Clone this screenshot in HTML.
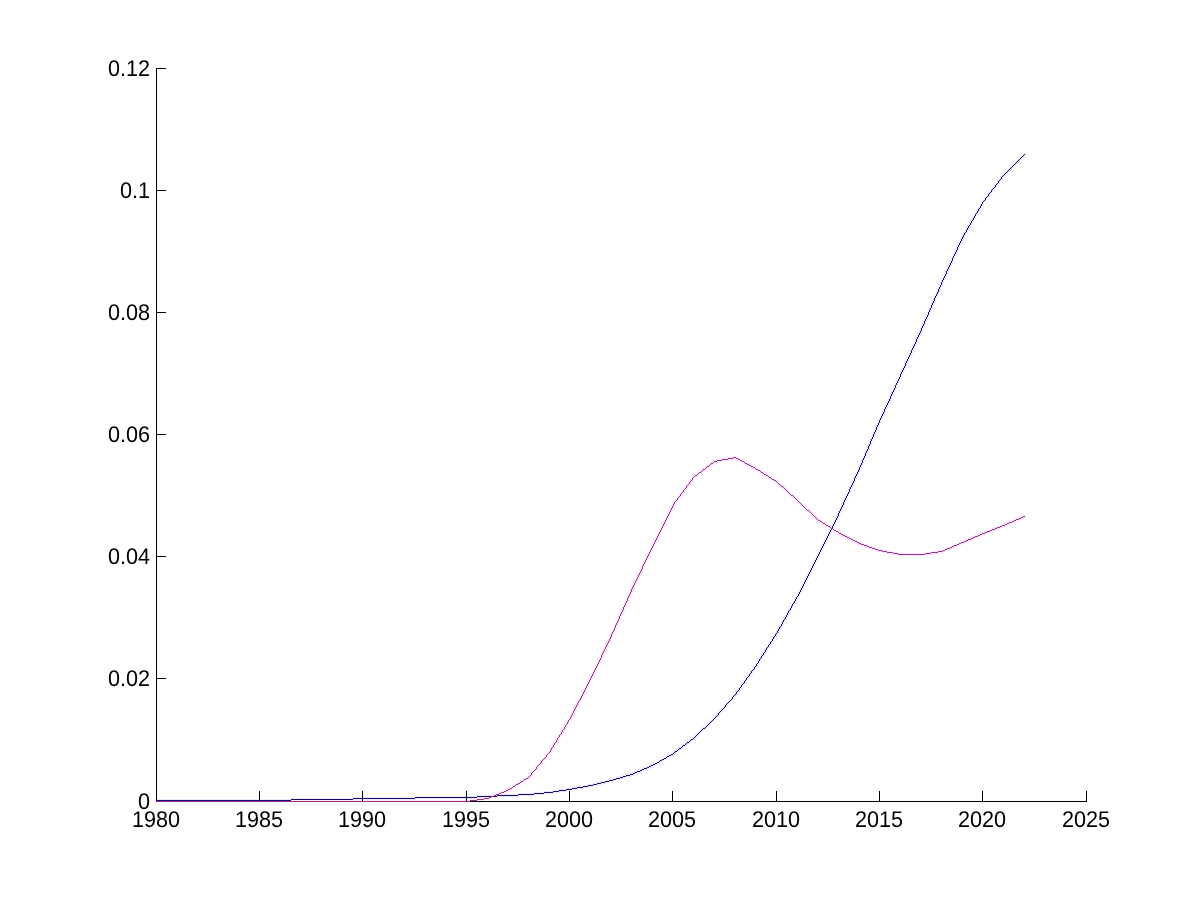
<!DOCTYPE html>
<html lang="en"><head><meta charset="utf-8"><title>Figure 1</title>
<style>
html,body{margin:0;padding:0;background:#fff;}
body{width:1200px;height:900px;overflow:hidden;}
svg{display:block;}
text{font-family:"Liberation Sans",Arial,Helvetica,sans-serif;font-size:21.6px;fill:#000;text-rendering:geometricPrecision;}
.lb{filter:grayscale(1);}
.ax{fill:#000;shape-rendering:crispEdges;}
.ln{stroke:none;shape-rendering:crispEdges;}
</style></head><body>
<svg width="1200" height="900" viewBox="0 0 1200 900">
<rect x="0" y="0" width="1200" height="900" fill="#ffffff"/>
<!-- soft chroma halo (JPEG-like colour bleed) -->
<path class="ln" fill="#ebe9fc" d="M290 798h63v1h-63zM415 798h63v1h-63zM891 396h2v1h-2zM680 746h2v1h-2zM683 746h3v1h-3zM622 775h4v1h-4zM630 775h4v1h-4zM903 370h2v1h-2zM476 795h18v1h-18zM518 795h17v1h-17zM773 635h2v1h-2zM926 314h2v1h-2zM915 344h2v1h-2zM352 797h63v1h-63zM477 797h12v1h-12zM491 797h7v1h-7zM788 609h2v1h-2zM937 288h2v1h-2zM157 799h134v1h-134zM353 799h63v1h-63zM949 262h2v1h-2zM961 236h2v1h-2zM1008 168h2v1h-2zM1011 168h2v1h-2zM756 662h2v1h-2zM720 709h2v1h-2zM723 709h2v1h-2zM989 191h2v1h-2zM837 512h2v1h-2zM414 796h63v1h-63zM497 796h22v1h-22zM1007 169h2v1h-2zM1010 169h2v1h-2zM849 486h2v1h-2zM533 792h11v1h-11zM553 792h7v1h-7zM863 460h2v1h-2zM825 537h2v1h-2zM771 642h2v1h-2zM576 786h7v1h-7zM588 786h6v1h-6zM648 765h3v1h-3zM653 765h3v1h-3zM934 295h2v1h-2zM784 616h2v1h-2zM948 269h2v1h-2zM984 197h2v1h-2zM987 197h2v1h-2zM960 243h2v1h-2zM615 777h5v1h-5zM623 777h4v1h-4zM1001 175h2v1h-2zM1004 175h2v1h-2zM849 492h2v1h-2zM715 715h2v1h-2zM718 715h2v1h-2zM751 669h2v1h-2zM754 669h2v1h-2zM696 733h2v1h-2zM699 733h2v1h-2zM643 767h4v1h-4zM649 767h3v1h-3zM986 198h2v1h-2zM767 648h2v1h-2zM860 467h2v1h-2zM824 544h2v1h-2zM1021 155h2v1h-2zM1024 155h2v1h-2zM871 441h2v1h-2zM908 359h2v1h-2zM780 623h2v1h-2zM920 333h2v1h-2zM982 200h2v1h-2zM985 200h2v1h-2zM818 551h2v1h-2zM831 525h2v1h-2zM792 602h2v1h-2zM604 780h5v1h-5zM613 780h4v1h-4zM843 499h2v1h-2zM565 788h7v1h-7zM577 788h7v1h-7zM891 391h2v1h-2zM760 655h2v1h-2zM763 655h2v1h-2zM903 365h2v1h-2zM663 757h3v1h-3zM667 757h3v1h-3zM994 184h2v1h-2zM997 184h2v1h-2zM1014 162h2v1h-2zM1017 162h2v1h-2zM634 771h3v1h-3zM640 771h3v1h-3zM877 422h2v1h-2zM905 366h2v1h-2zM592 783h5v1h-5zM601 783h5v1h-5zM802 583h2v1h-2zM1012 164h2v1h-2zM1015 164h2v1h-2zM543 791h10v1h-10zM559 791h8v1h-8zM815 557h2v1h-2zM876 424h2v1h-2zM291 800h63v1h-63zM888 398h2v1h-2zM704 726h2v1h-2zM707 726h2v1h-2zM902 372h2v1h-2zM914 346h2v1h-2zM923 320h2v1h-2zM948 264h2v1h-2zM757 664h2v1h-2zM925 321h2v1h-2zM1005 171h2v1h-2zM1008 171h2v1h-2zM801 590h2v1h-2zM837 518h2v1h-2zM735 691h2v1h-2zM738 691h2v1h-2zM750 670h2v1h-2zM753 670h2v1h-2zM933 297h2v1h-2zM920 327h2v1h-2zM947 271h2v1h-2zM934 301h2v1h-2zM499 794h19v1h-19zM534 794h11v1h-11zM959 245h2v1h-2zM1019 157h2v1h-2zM1022 157h2v1h-2zM868 443h2v1h-2zM745 677h2v1h-2zM748 677h2v1h-2zM552 790h7v1h-7zM566 790h7v1h-7zM686 741h3v1h-3zM690 741h2v1h-2zM636 770h4v1h-4zM642 770h3v1h-3zM711 719h2v1h-2zM714 719h2v1h-2zM747 678h2v1h-2zM854 475h2v1h-2zM868 449h2v1h-2zM978 207h2v1h-2zM759 657h2v1h-2zM817 558h2v1h-2zM830 532h2v1h-2zM656 761h3v1h-3zM660 761h3v1h-3zM775 632h2v1h-2zM916 342h2v1h-2zM816 560h2v1h-2zM925 316h2v1h-2zM722 707h2v1h-2zM725 707h2v1h-2zM582 785h6v1h-6zM593 785h5v1h-5zM910 349h2v1h-2zM625 774h5v1h-5zM633 774h3v1h-3zM922 323h2v1h-2zM826 535h2v1h-2zM976 214h2v1h-2zM841 509h2v1h-2zM901 374h2v1h-2zM853 483h2v1h-2zM862 457h2v1h-2zM935 298h2v1h-2zM694 735h2v1h-2zM697 735h2v1h-2zM619 776h4v1h-4zM626 776h5v1h-5zM797 593h2v1h-2zM887 405h2v1h-2zM773 639h2v1h-2zM810 567h2v1h-2zM783 618h2v1h-2zM672 752h2v1h-2zM675 752h3v1h-3zM919 330h2v1h-2zM825 542h2v1h-2zM946 274h2v1h-2zM734 693h2v1h-2zM930 304h2v1h-2zM710 720h2v1h-2zM713 720h2v1h-2zM793 600h2v1h-2zM608 779h5v1h-5zM616 779h5v1h-5zM907 356h2v1h-2zM779 625h2v1h-2zM842 501h2v1h-2zM940 281h2v1h-2zM927 311h2v1h-2zM952 255h2v1h-2zM743 680h2v1h-2zM746 680h2v1h-2zM558 789h8v1h-8zM572 789h6v1h-6zM682 744h3v1h-3zM686 744h2v1h-2zM979 209h2v1h-2zM792 606h2v1h-2zM889 401h2v1h-2zM829 534h2v1h-2zM875 426h2v1h-2zM650 764h3v1h-3zM655 764h3v1h-3zM769 641h2v1h-2zM772 641h2v1h-2zM738 687h2v1h-2zM741 687h2v1h-2zM678 747h3v1h-3zM682 747h2v1h-2zM975 216h2v1h-2zM673 751h2v1h-2zM677 751h2v1h-2zM753 666h2v1h-2zM756 666h2v1h-2zM840 511h2v1h-2zM852 485h2v1h-2zM895 382h2v1h-2zM836 515h2v1h-2zM861 459h2v1h-2zM923 326h2v1h-2zM932 300h2v1h-2zM886 407h2v1h-2zM670 753h3v1h-3zM674 753h2v1h-2zM809 569h2v1h-2zM714 716h2v1h-2zM717 716h2v1h-2zM1002 174h2v1h-2zM1005 174h2v1h-2zM918 332h2v1h-2zM971 223h2v1h-2zM765 647h2v1h-2zM768 647h2v1h-2zM858 466h2v1h-2zM906 363h2v1h-2zM869 440h2v1h-2zM690 738h3v1h-3zM694 738h2v1h-2zM726 702h2v1h-2zM729 702h2v1h-2zM776 634h2v1h-2zM940 287h2v1h-2zM761 654h2v1h-2zM952 261h2v1h-2zM995 183h2v1h-2zM998 183h2v1h-2zM517 793h17v1h-17zM544 793h10v1h-10zM652 763h3v1h-3zM657 763h3v1h-3zM721 708h2v1h-2zM724 708h2v1h-2zM992 190h2v1h-2zM828 536h2v1h-2zM1006 170h2v1h-2zM1009 170h2v1h-2zM946 268h2v1h-2zM697 732h2v1h-2zM700 732h2v1h-2zM646 766h3v1h-3zM651 766h3v1h-3zM835 517h2v1h-2zM894 384h2v1h-2zM906 358h2v1h-2zM1002 177h2v1h-2zM732 695h2v1h-2zM735 695h2v1h-2zM795 601h2v1h-2zM766 650h2v1h-2zM808 576h2v1h-2zM665 756h2v1h-2zM669 756h3v1h-3zM834 524h2v1h-2zM917 339h2v1h-2zM951 257h2v1h-2zM893 392h2v1h-2zM791 608h2v1h-2zM1013 163h2v1h-2zM1016 163h2v1h-2zM993 186h2v1h-2zM865 450h2v1h-2zM939 289h2v1h-2zM951 263h2v1h-2zM755 663h2v1h-2zM758 663h2v1h-2zM787 615h2v1h-2zM988 192h2v1h-2zM991 192h2v1h-2zM701 728h2v1h-2zM705 728h2v1h-2zM987 193h2v1h-2zM990 193h2v1h-2zM945 270h2v1h-2zM957 244h2v1h-2zM695 734h2v1h-2zM698 734h2v1h-2zM752 671h2v1h-2zM1020 156h2v1h-2zM1023 156h2v1h-2zM639 769h3v1h-3zM644 769h4v1h-4zM845 495h2v1h-2zM857 469h2v1h-2zM998 179h2v1h-2zM1001 179h2v1h-2zM981 206h2v1h-2zM596 782h5v1h-5zM605 782h5v1h-5zM807 578h2v1h-2zM632 772h3v1h-3zM637 772h4v1h-4zM844 502h2v1h-2zM801 585h2v1h-2zM659 759h3v1h-3zM664 759h3v1h-3zM856 476h2v1h-2zM928 315h2v1h-2zM723 706h2v1h-2zM974 213h2v1h-2zM977 213h2v1h-2zM702 727h3v1h-3zM706 727h2v1h-2zM839 508h2v1h-2zM864 452h2v1h-2zM851 482h2v1h-2zM681 745h2v1h-2zM685 745h2v1h-2zM814 559h2v1h-2zM887 400h2v1h-2zM739 686h2v1h-2zM961 241h2v1h-2zM771 638h2v1h-2zM973 215h2v1h-2zM786 617h2v1h-2zM1004 172h2v1h-2zM1007 172h2v1h-2zM823 541h2v1h-2zM944 273h2v1h-2zM986 195h2v1h-2zM958 247h2v1h-2zM641 768h3v1h-3zM647 768h3v1h-3zM813 566h2v1h-2zM872 433h2v1h-2zM898 381h2v1h-2zM910 355h2v1h-2zM749 672h2v1h-2zM969 222h2v1h-2zM782 624h2v1h-2zM748 673h2v1h-2zM751 673h2v1h-2zM844 497h2v1h-2zM856 471h2v1h-2zM1017 159h2v1h-2zM1020 159h2v1h-2zM965 229h2v1h-2zM943 280h2v1h-2zM778 631h2v1h-2zM977 208h2v1h-2zM980 208h2v1h-2zM955 254h2v1h-2zM790 605h2v1h-2zM853 477h2v1h-2zM878 425h2v1h-2zM774 633h2v1h-2zM777 633h2v1h-2zM855 478h2v1h-2zM802 588h2v1h-2zM754 665h2v1h-2zM838 510h2v1h-2zM850 484h2v1h-2zM864 458h2v1h-2zM740 688h2v1h-2zM699 730h2v1h-2zM702 730h2v1h-2zM898 376h2v1h-2zM770 640h2v1h-2zM587 784h6v1h-6zM597 784h5v1h-5zM612 778h4v1h-4zM620 778h4v1h-4zM822 543h2v1h-2zM885 409h2v1h-2zM780 627h2v1h-2zM872 439h2v1h-2zM897 383h2v1h-2zM909 357h2v1h-2zM571 787h6v1h-6zM583 787h6v1h-6zM968 224h2v1h-2zM1000 176h2v1h-2zM1003 176h2v1h-2zM600 781h5v1h-5zM609 781h5v1h-5zM1015 161h2v1h-2zM1018 161h2v1h-2zM706 724h2v1h-2zM709 724h2v1h-2zM964 231h2v1h-2zM990 189h2v1h-2zM993 189h2v1h-2zM960 238h2v1h-2zM799 594h2v1h-2zM972 217h2v1h-2zM718 711h2v1h-2zM721 711h2v1h-2zM768 643h2v1h-2zM861 465h2v1h-2zM713 717h2v1h-2zM716 717h2v1h-2zM764 649h2v1h-2zM808 571h2v1h-2zM821 545h2v1h-2zM917 334h2v1h-2zM942 282h2v1h-2zM954 256h2v1h-2zM999 178h2v1h-2zM928 309h2v1h-2zM793 604h2v1h-2zM882 416h2v1h-2zM762 656h2v1h-2zM996 185h2v1h-2zM890 393h2v1h-2zM979 205h2v1h-2zM902 367h2v1h-2zM914 341h2v1h-2zM772 636h2v1h-2zM775 636h2v1h-2zM685 742h2v1h-2zM689 742h2v1h-2zM787 610h2v1h-2zM790 610h2v1h-2zM965 233h2v1h-2zM789 611h2v1h-2zM839 513h2v1h-2zM851 487h2v1h-2zM827 538h2v1h-2zM936 296h2v1h-2zM959 240h2v1h-2zM983 199h2v1h-2zM848 494h2v1h-2zM870 438h2v1h-2zM884 412h2v1h-2zM693 736h2v1h-2zM696 736h2v1h-2zM981 201h2v1h-2zM984 201h2v1h-2zM836 520h2v1h-2zM791 603h2v1h-2zM794 603h2v1h-2zM820 552h2v1h-2zM878 419h2v1h-2zM684 743h2v1h-2zM687 743h3v1h-3zM709 721h2v1h-2zM712 721h2v1h-2zM760 659h2v1h-2zM890 399h2v1h-2zM991 188h2v1h-2zM994 188h2v1h-2zM1010 166h2v1h-2zM1013 166h2v1h-2zM936 291h2v1h-2zM913 348h2v1h-2zM654 762h3v1h-3zM659 762h2v1h-2zM947 266h2v1h-2zM742 685h2v1h-2zM989 194h2v1h-2zM798 591h2v1h-2zM811 565h2v1h-2zM884 406h2v1h-2zM782 619h2v1h-2zM785 619h2v1h-2zM956 246h2v1h-2zM716 714h2v1h-2zM847 496h2v1h-2zM972 221h2v1h-2zM859 470h2v1h-2zM870 444h2v1h-2zM778 626h2v1h-2zM781 626h2v1h-2zM941 279h2v1h-2zM953 253h2v1h-2zM727 701h2v1h-2zM730 701h2v1h-2zM744 679h2v1h-2zM816 555h2v1h-2zM758 658h2v1h-2zM761 658h2v1h-2zM806 580h2v1h-2zM867 451h2v1h-2zM745 681h2v1h-2zM889 395h2v1h-2zM707 723h2v1h-2zM710 723h2v1h-2zM901 369h2v1h-2zM841 504h2v1h-2zM913 343h2v1h-2zM813 561h2v1h-2zM927 317h2v1h-2zM700 729h2v1h-2zM703 729h3v1h-3zM800 587h2v1h-2zM875 432h2v1h-2zM912 350h2v1h-2zM812 568h2v1h-2zM924 324h2v1h-2zM883 408h2v1h-2zM943 275h2v1h-2zM733 694h2v1h-2zM736 694h2v1h-2zM766 646h2v1h-2zM955 249h2v1h-2zM666 755h3v1h-3zM671 755h3v1h-3zM806 575h2v1h-2zM750 674h2v1h-2zM932 305h2v1h-2zM733 697h2v1h-2zM996 182h2v1h-2zM688 740h2v1h-2zM691 740h3v1h-3zM789 607h2v1h-2zM724 704h2v1h-2zM727 704h2v1h-2zM866 453h2v1h-2zM877 427h2v1h-2zM852 480h2v1h-2zM719 710h2v1h-2zM722 710h2v1h-2zM814 564h2v1h-2zM911 353h2v1h-2zM874 434h2v1h-2zM811 570h2v1h-2zM797 597h2v1h-2zM834 519h2v1h-2zM846 493h2v1h-2zM882 411h2v1h-2zM931 308h2v1h-2zM805 577h2v1h-2zM689 739h2v1h-2zM693 739h2v1h-2zM967 230h2v1h-2zM661 758h3v1h-3zM666 758h2v1h-2zM725 703h2v1h-2zM728 703h2v1h-2zM963 232h2v1h-2zM966 232h2v1h-2zM881 418h2v1h-2zM1011 165h2v1h-2zM1014 165h2v1h-2zM677 748h2v1h-2zM681 748h2v1h-2zM873 437h2v1h-2zM769 645h2v1h-2zM896 385h2v1h-2zM763 651h2v1h-2zM820 547h2v1h-2zM1018 158h2v1h-2zM1021 158h2v1h-2zM833 521h2v1h-2zM930 310h2v1h-2zM939 284h2v1h-2zM953 258h2v1h-2zM819 554h2v1h-2zM804 584h2v1h-2zM629 773h4v1h-4zM635 773h3v1h-3zM950 265h2v1h-2zM740 684h2v1h-2zM743 684h2v1h-2zM962 239h2v1h-2zM938 292h2v1h-2zM970 220h2v1h-2zM973 220h2v1h-2zM997 180h2v1h-2zM1000 180h2v1h-2zM668 754h3v1h-3zM673 754h2v1h-2zM804 579h2v1h-2zM892 394h2v1h-2zM708 722h2v1h-2zM711 722h2v1h-2zM904 368h2v1h-2zM728 700h2v1h-2zM731 700h2v1h-2zM803 586h2v1h-2zM1009 167h2v1h-2zM1012 167h2v1h-2zM759 661h2v1h-2zM958 242h2v1h-2zM886 402h2v1h-2zM949 267h2v1h-2zM755 667h2v1h-2zM985 196h2v1h-2zM988 196h2v1h-2zM897 378h2v1h-2zM909 352h2v1h-2zM731 696h2v1h-2zM734 696h2v1h-2zM846 498h2v1h-2zM858 472h2v1h-2zM880 415h2v1h-2zM1016 160h2v1h-2zM1019 160h2v1h-2zM929 307h2v1h-2zM828 531h2v1h-2zM843 505h2v1h-2zM799 589h2v1h-2zM737 689h2v1h-2zM676 749h2v1h-2zM679 749h3v1h-3zM812 563h2v1h-2zM736 690h2v1h-2zM739 690h2v1h-2zM885 404h2v1h-2zM795 596h2v1h-2zM798 596h2v1h-2zM871 436h2v1h-2zM967 225h2v1h-2zM970 225h2v1h-2zM969 226h2v1h-2zM712 718h2v1h-2zM715 718h2v1h-2zM746 676h2v1h-2zM749 676h2v1h-2zM879 417h2v1h-2zM854 481h2v1h-2zM863 455h2v1h-2zM774 637h2v1h-2zM974 218h2v1h-2zM674 750h3v1h-3zM678 750h2v1h-2zM826 540h2v1h-2zM737 692h2v1h-2zM767 644h2v1h-2zM770 644h2v1h-2zM823 546h2v1h-2zM807 573h2v1h-2zM916 336h2v1h-2zM907 361h2v1h-2zM817 553h2v1h-2zM658 760h2v1h-2zM662 760h3v1h-3zM962 234h2v1h-2zM786 612h2v1h-2zM935 293h2v1h-2zM1003 173h2v1h-2zM1006 173h2v1h-2zM698 731h2v1h-2zM701 731h2v1h-2zM781 621h2v1h-2zM692 737h2v1h-2zM695 737h2v1h-2zM764 653h2v1h-2zM869 446h2v1h-2zM832 523h2v1h-2zM983 202h2v1h-2zM880 420h2v1h-2zM777 628h2v1h-2zM915 338h2v1h-2zM929 312h2v1h-2zM757 660h2v1h-2zM831 530h2v1h-2zM926 319h2v1h-2zM785 614h2v1h-2zM921 325h2v1h-2zM1023 153h3v1h-3zM796 595h2v1h-2zM818 556h2v1h-2zM742 682h2v1h-2zM705 725h2v1h-2zM708 725h2v1h-2zM842 507h2v1h-2zM815 562h2v1h-2zM888 403h2v1h-2zM900 377h2v1h-2zM848 488h2v1h-2zM860 462h2v1h-2zM747 675h2v1h-2zM945 276h2v1h-2zM957 250h2v1h-2zM730 698h2v1h-2zM919 335h2v1h-2zM776 630h2v1h-2zM726 705h2v1h-2zM908 354h2v1h-2zM922 328h2v1h-2zM899 379h2v1h-2zM810 572h2v1h-2zM859 464h2v1h-2zM893 387h2v1h-2zM762 652h2v1h-2zM765 652h2v1h-2zM867 445h2v1h-2zM924 318h2v1h-2zM788 613h2v1h-2zM838 516h2v1h-2zM809 574h2v1h-2zM784 620h2v1h-2zM835 522h2v1h-2zM918 337h2v1h-2zM819 549h2v1h-2zM941 285h2v1h-2zM999 181h2v1h-2zM829 529h2v1h-2zM912 345h2v1h-2zM752 668h2v1h-2zM931 302h2v1h-2zM982 204h2v1h-2zM866 448h2v1h-2zM840 506h2v1h-2zM978 211h2v1h-2zM874 429h2v1h-2zM937 294h2v1h-2zM911 347h2v1h-2zM873 431h2v1h-2zM783 622h2v1h-2zM905 360h2v1h-2zM779 629h2v1h-2zM944 278h2v1h-2zM956 252h2v1h-2zM824 539h2v1h-2zM966 227h2v1h-2zM904 362h2v1h-2zM992 187h2v1h-2zM995 187h2v1h-2zM865 456h2v1h-2zM850 489h2v1h-2zM862 463h2v1h-2zM822 548h2v1h-2zM883 414h2v1h-2zM895 388h2v1h-2zM980 203h2v1h-2zM803 581h2v1h-2zM855 473h2v1h-2zM976 210h2v1h-2zM821 550h2v1h-2zM741 683h2v1h-2zM744 683h2v1h-2zM975 212h2v1h-2zM1022 154h2v1h-2zM876 430h2v1h-2zM717 712h2v1h-2zM720 712h2v1h-2zM971 219h2v1h-2zM942 277h2v1h-2zM954 251h2v1h-2zM729 699h2v1h-2zM732 699h2v1h-2zM827 533h2v1h-2zM800 592h2v1h-2zM933 303h2v1h-2zM794 598h2v1h-2zM796 599h2v1h-2zM968 228h2v1h-2zM964 235h2v1h-2zM896 380h2v1h-2zM847 491h2v1h-2zM894 390h2v1h-2zM805 582h2v1h-2zM900 371h2v1h-2zM963 237h2v1h-2zM879 423h2v1h-2zM899 373h2v1h-2zM833 526h2v1h-2zM845 500h2v1h-2zM857 474h2v1h-2zM881 413h2v1h-2zM938 286h2v1h-2zM950 260h2v1h-2zM719 713h2v1h-2zM921 331h2v1h-2zM892 389h2v1h-2zM496 795h1v1h-1zM717 713h1v1h-1zM719 714h1v1h-1zM724 705h1v1h-1zM726 706h1v1h-1zM731 697h1v1h-1zM733 698h1v1h-1zM735 692h1v1h-1zM737 693h1v1h-1zM738 688h1v1h-1zM740 685h1v1h-1zM740 689h1v1h-1zM742 686h1v1h-1zM743 681h1v1h-1zM745 678h1v1h-1zM745 682h1v1h-1zM747 679h1v1h-1zM748 674h1v1h-1zM750 671h1v1h-1zM750 675h1v1h-1zM752 672h1v1h-1zM753 667h1v1h-1zM755 664h1v1h-1zM755 668h1v1h-1zM757 661h1v1h-1zM757 665h1v1h-1zM758 659h1v1h-1zM759 662h1v1h-1zM760 656h1v1h-1zM760 660h1v1h-1zM762 653h1v1h-1zM762 657h1v1h-1zM764 650h1v1h-1zM764 654h1v1h-1zM765 648h1v1h-1zM766 651h1v1h-1zM767 645h1v1h-1zM767 649h1v1h-1zM769 642h1v1h-1zM769 646h1v1h-1zM771 639h1v1h-1zM771 643h1v1h-1zM772 637h1v1h-1zM773 640h1v1h-1zM774 634h1v1h-1zM774 638h1v1h-1zM776 631h1v1h-1zM776 635h1v1h-1zM777 629h1v1h-1zM778 627h1v1h-1zM778 632h1v1h-1zM779 630h1v1h-1zM780 624h1v1h-1zM780 628h1v1h-1zM781 622h1v1h-1zM782 620h1v1h-1zM782 625h1v1h-1zM783 623h1v1h-1zM784 617h1v1h-1zM784 621h1v1h-1zM785 615h1v1h-1zM786 613h1v1h-1zM786 618h1v1h-1zM787 611h1v1h-1zM787 616h1v1h-1zM788 614h1v1h-1zM789 608h1v1h-1zM789 612h1v1h-1zM790 606h1v1h-1zM791 604h1v1h-1zM791 609h1v1h-1zM792 607h1v1h-1zM793 601h1v1h-1zM793 605h1v1h-1zM794 599h1v1h-1zM795 597h1v1h-1zM795 602h1v1h-1zM796 600h1v1h-1zM797 594h1v1h-1zM797 598h1v1h-1zM798 592h1v1h-1zM799 590h1v1h-1zM799 595h1v1h-1zM800 588h1v1h-1zM800 593h1v1h-1zM801 586h1v1h-1zM801 591h1v1h-1zM802 584h1v1h-1zM802 589h1v1h-1zM803 582h1v1h-1zM803 587h1v1h-1zM804 580h1v1h-1zM804 585h1v1h-1zM805 578h1v1h-1zM805 583h1v1h-1zM806 576h1v1h-1zM806 581h1v1h-1zM807 574h1v1h-1zM807 579h1v1h-1zM808 572h1v1h-1zM808 577h1v1h-1zM809 570h1v1h-1zM809 575h1v1h-1zM810 568h1v1h-1zM810 573h1v1h-1zM811 566h1v1h-1zM811 571h1v1h-1zM812 564h1v1h-1zM812 569h1v1h-1zM813 562h1v1h-1zM813 567h1v1h-1zM814 560h1v1h-1zM814 565h1v1h-1zM815 558h1v1h-1zM815 563h1v1h-1zM816 556h1v1h-1zM816 561h1v1h-1zM817 554h1v1h-1zM817 559h1v1h-1zM818 552h1v1h-1zM818 557h1v1h-1zM819 550h1v1h-1zM819 555h1v1h-1zM820 548h1v1h-1zM820 553h1v1h-1zM821 546h1v1h-1zM821 551h1v1h-1zM822 544h1v1h-1zM822 549h1v1h-1zM823 542h1v1h-1zM823 547h1v1h-1zM824 540h1v1h-1zM824 545h1v1h-1zM825 538h1v1h-1zM825 543h1v1h-1zM826 536h1v1h-1zM826 541h1v1h-1zM827 534h1v1h-1zM827 539h1v1h-1zM828 532h1v1h-1zM828 537h1v1h-1zM829 530h1v1h-1zM829 535h1v1h-1zM830 528h1v1h-1zM830 533h1v1h-1zM831 526h1v2h-1zM831 531h1v1h-1zM832 524h1v1h-1zM832 529h1v1h-1zM833 522h1v1h-1zM833 527h1v2h-1zM834 520h1v1h-1zM834 525h1v1h-1zM835 518h1v1h-1zM835 523h1v1h-1zM836 516h1v1h-1zM836 521h1v1h-1zM837 513h1v2h-1zM837 519h1v1h-1zM838 511h1v1h-1zM838 517h1v1h-1zM839 509h1v1h-1zM839 514h1v2h-1zM840 507h1v1h-1zM840 512h1v1h-1zM841 505h1v1h-1zM841 510h1v1h-1zM842 502h1v2h-1zM842 508h1v1h-1zM843 500h1v1h-1zM843 506h1v1h-1zM844 498h1v1h-1zM844 503h1v2h-1zM845 496h1v1h-1zM845 501h1v1h-1zM846 494h1v1h-1zM846 499h1v1h-1zM847 492h1v1h-1zM847 497h1v1h-1zM848 489h1v2h-1zM848 495h1v1h-1zM849 487h1v1h-1zM849 493h1v1h-1zM850 485h1v1h-1zM850 490h1v2h-1zM851 483h1v1h-1zM851 488h1v1h-1zM852 481h1v1h-1zM852 486h1v1h-1zM853 478h1v2h-1zM853 484h1v1h-1zM854 476h1v1h-1zM854 482h1v1h-1zM855 474h1v1h-1zM855 479h1v2h-1zM856 472h1v1h-1zM856 477h1v1h-1zM857 470h1v1h-1zM857 475h1v1h-1zM858 467h1v2h-1zM858 473h1v1h-1zM859 465h1v1h-1zM859 471h1v1h-1zM860 463h1v1h-1zM860 468h1v2h-1zM861 460h1v2h-1zM861 466h1v1h-1zM862 458h1v1h-1zM862 464h1v1h-1zM863 456h1v1h-1zM863 461h1v2h-1zM864 453h1v2h-1zM864 459h1v1h-1zM865 451h1v1h-1zM865 457h1v1h-1zM866 449h1v1h-1zM866 454h1v2h-1zM867 446h1v2h-1zM867 452h1v1h-1zM868 444h1v1h-1zM868 450h1v1h-1zM869 441h1v2h-1zM869 447h1v2h-1zM870 439h1v1h-1zM870 445h1v1h-1zM871 437h1v1h-1zM871 442h1v2h-1zM872 434h1v2h-1zM872 440h1v1h-1zM873 432h1v1h-1zM873 438h1v1h-1zM874 430h1v1h-1zM874 435h1v2h-1zM875 427h1v2h-1zM875 433h1v1h-1zM876 425h1v1h-1zM876 431h1v1h-1zM877 423h1v1h-1zM877 428h1v2h-1zM878 420h1v2h-1zM878 426h1v1h-1zM879 418h1v1h-1zM879 424h1v1h-1zM880 416h1v1h-1zM880 421h1v2h-1zM881 414h1v1h-1zM881 419h1v1h-1zM882 412h1v1h-1zM882 417h1v1h-1zM883 409h1v2h-1zM883 415h1v1h-1zM884 407h1v1h-1zM884 413h1v1h-1zM885 405h1v1h-1zM885 410h1v2h-1zM886 403h1v1h-1zM886 408h1v1h-1zM887 401h1v1h-1zM887 406h1v1h-1zM888 399h1v1h-1zM888 404h1v1h-1zM889 396h1v2h-1zM889 402h1v1h-1zM890 394h1v1h-1zM890 400h1v1h-1zM891 392h1v1h-1zM891 397h1v2h-1zM892 390h1v1h-1zM892 395h1v1h-1zM893 388h1v1h-1zM893 393h1v1h-1zM894 385h1v2h-1zM894 391h1v1h-1zM895 383h1v1h-1zM895 389h1v1h-1zM896 381h1v1h-1zM896 386h1v2h-1zM897 379h1v1h-1zM897 384h1v1h-1zM898 377h1v1h-1zM898 382h1v1h-1zM899 374h1v2h-1zM899 380h1v1h-1zM900 372h1v1h-1zM900 378h1v1h-1zM901 370h1v1h-1zM901 375h1v2h-1zM902 368h1v1h-1zM902 373h1v1h-1zM903 366h1v1h-1zM903 371h1v1h-1zM904 363h1v2h-1zM904 369h1v1h-1zM905 361h1v1h-1zM905 367h1v1h-1zM906 359h1v1h-1zM906 364h1v2h-1zM907 357h1v1h-1zM907 362h1v1h-1zM908 355h1v1h-1zM908 360h1v1h-1zM909 353h1v1h-1zM909 358h1v1h-1zM910 350h1v2h-1zM910 356h1v1h-1zM911 348h1v1h-1zM911 354h1v1h-1zM912 346h1v1h-1zM912 351h1v2h-1zM913 344h1v1h-1zM913 349h1v1h-1zM914 342h1v1h-1zM914 347h1v1h-1zM915 339h1v2h-1zM915 345h1v1h-1zM916 337h1v1h-1zM916 343h1v1h-1zM917 335h1v1h-1zM917 340h1v2h-1zM918 333h1v1h-1zM918 338h1v1h-1zM919 331h1v1h-1zM919 336h1v1h-1zM920 328h1v2h-1zM920 334h1v1h-1zM921 326h1v1h-1zM921 332h1v1h-1zM922 324h1v1h-1zM922 329h1v2h-1zM923 321h1v2h-1zM923 327h1v1h-1zM924 319h1v1h-1zM924 325h1v1h-1zM925 317h1v1h-1zM925 322h1v2h-1zM926 315h1v1h-1zM926 320h1v1h-1zM927 312h1v2h-1zM927 318h1v1h-1zM928 310h1v1h-1zM928 316h1v1h-1zM929 308h1v1h-1zM929 313h1v2h-1zM930 305h1v2h-1zM930 311h1v1h-1zM931 303h1v1h-1zM931 309h1v1h-1zM932 301h1v1h-1zM932 306h1v2h-1zM933 298h1v2h-1zM933 304h1v1h-1zM934 296h1v1h-1zM934 302h1v1h-1zM935 294h1v1h-1zM935 299h1v2h-1zM936 292h1v1h-1zM936 297h1v1h-1zM937 289h1v2h-1zM937 295h1v1h-1zM938 287h1v1h-1zM938 293h1v1h-1zM939 285h1v1h-1zM939 290h1v2h-1zM940 282h1v2h-1zM940 288h1v1h-1zM941 280h1v1h-1zM941 286h1v1h-1zM942 278h1v1h-1zM942 283h1v2h-1zM943 276h1v1h-1zM943 281h1v1h-1zM944 274h1v1h-1zM944 279h1v1h-1zM945 271h1v2h-1zM945 277h1v1h-1zM946 269h1v1h-1zM946 275h1v1h-1zM947 267h1v1h-1zM947 272h1v2h-1zM948 265h1v1h-1zM948 270h1v1h-1zM949 263h1v1h-1zM949 268h1v1h-1zM950 261h1v1h-1zM950 266h1v1h-1zM951 258h1v2h-1zM951 264h1v1h-1zM952 256h1v1h-1zM952 262h1v1h-1zM953 254h1v1h-1zM953 259h1v2h-1zM954 252h1v1h-1zM954 257h1v1h-1zM955 250h1v1h-1zM955 255h1v1h-1zM956 247h1v2h-1zM956 253h1v1h-1zM957 245h1v1h-1zM957 251h1v1h-1zM958 243h1v1h-1zM958 248h1v2h-1zM959 241h1v1h-1zM959 246h1v1h-1zM960 239h1v1h-1zM960 244h1v1h-1zM961 237h1v1h-1zM961 242h1v1h-1zM962 235h1v1h-1zM962 240h1v1h-1zM963 233h1v1h-1zM963 238h1v1h-1zM964 236h1v1h-1zM965 230h1v1h-1zM965 234h1v1h-1zM966 228h1v1h-1zM967 226h1v1h-1zM967 231h1v1h-1zM968 229h1v1h-1zM969 223h1v1h-1zM969 227h1v1h-1zM970 221h1v1h-1zM971 224h1v1h-1zM972 218h1v1h-1zM972 222h1v1h-1zM973 216h1v1h-1zM974 214h1v1h-1zM974 219h1v1h-1zM975 217h1v1h-1zM976 211h1v1h-1zM976 215h1v1h-1zM977 209h1v1h-1zM978 212h1v1h-1zM979 206h1v1h-1zM979 210h1v1h-1zM980 204h1v1h-1zM981 202h1v1h-1zM981 207h1v1h-1zM982 205h1v1h-1zM983 203h1v1h-1zM984 198h1v1h-1zM986 199h1v1h-1zM987 194h1v1h-1zM989 195h1v1h-1zM990 190h1v1h-1zM992 191h1v1h-1zM994 185h1v1h-1zM996 186h1v1h-1zM997 181h1v1h-1zM999 182h1v1h-1zM1000 177h1v1h-1zM1002 178h1v1h-1zM1025 154h1v1h-1z"/>
<path class="ln" fill="#fae6fb" d="M708 464h2v1h-2zM711 464h3v1h-3zM744 464h3v1h-3zM749 464h3v1h-3zM583 694h2v1h-2zM656 540h2v1h-2zM850 540h3v1h-3zM855 540h3v1h-3zM963 540h3v1h-3zM968 540h4v1h-4zM673 506h2v1h-2zM801 506h2v1h-2zM804 506h2v1h-2zM596 668h2v1h-2zM535 766h2v1h-2zM538 766h2v1h-2zM620 616h2v1h-2zM668 516h2v1h-2zM812 516h2v1h-2zM815 516h2v1h-2zM1020 516h3v1h-3zM644 564h2v1h-2zM647 553h2v1h-2zM886 553h7v1h-7zM898 553h27v1h-27zM931 553h8v1h-8zM662 528h2v1h-2zM829 528h2v1h-2zM833 528h2v1h-2zM991 528h4v1h-4zM997 528h4v1h-4zM551 746h2v1h-2zM716 459h6v1h-6zM728 459h6v1h-6zM735 459h3v1h-3zM740 459h3v1h-3zM291 800h179v1h-179zM477 800h8v1h-8zM654 539h2v1h-2zM848 539h3v1h-3zM853 539h3v1h-3zM965 539h3v1h-3zM971 539h3v1h-3zM667 518h2v1h-2zM814 518h2v1h-2zM817 518h2v1h-2zM1015 518h4v1h-4zM1021 518h3v1h-3zM476 798h8v1h-8zM489 798h3v1h-3zM579 701h2v1h-2zM652 543h2v1h-2zM856 543h3v1h-3zM861 543h4v1h-4zM956 543h3v1h-3zM961 543h4v1h-4zM649 549h2v1h-2zM871 549h4v1h-4zM878 549h5v1h-5zM942 549h3v1h-3zM947 549h4v1h-4zM661 530h2v1h-2zM832 530h2v1h-2zM836 530h3v1h-3zM986 530h4v1h-4zM992 530h4v1h-4zM664 519h2v1h-2zM815 519h2v1h-2zM818 519h3v1h-3zM1013 519h3v1h-3zM1019 519h3v1h-3zM653 541h2v1h-2zM852 541h3v1h-3zM857 541h3v1h-3zM960 541h4v1h-4zM966 541h3v1h-3zM498 792h3v1h-3zM504 792h3v1h-3zM614 624h2v1h-2zM528 775h2v1h-2zM531 775h2v1h-2zM653 546h2v1h-2zM863 546h4v1h-4zM869 546h4v1h-4zM949 546h3v1h-3zM954 546h4v1h-4zM587 681h2v1h-2zM573 708h2v1h-2zM614 630h2v1h-2zM665 522h2v1h-2zM819 522h3v1h-3zM823 522h3v1h-3zM1006 522h3v1h-3zM1012 522h3v1h-3zM623 604h2v1h-2zM635 578h2v1h-2zM490 795h4v1h-4zM539 762h2v1h-2zM570 714h2v1h-2zM688 481h2v1h-2zM691 481h2v1h-2zM773 481h3v1h-3zM777 481h2v1h-2zM572 715h2v1h-2zM675 499h2v1h-2zM794 499h2v1h-2zM797 499h2v1h-2zM514 784h2v1h-2zM518 784h3v1h-3zM669 509h2v1h-2zM804 509h2v1h-2zM807 509h3v1h-3zM566 721h2v1h-2zM512 785h3v1h-3zM516 785h3v1h-3zM704 467h2v1h-2zM707 467h3v1h-3zM750 467h3v1h-3zM755 467h2v1h-2zM658 531h2v1h-2zM833 531h3v1h-3zM838 531h2v1h-2zM984 531h3v1h-3zM990 531h3v1h-3zM533 769h2v1h-2zM536 769h2v1h-2zM655 542h2v1h-2zM854 542h3v1h-3zM859 542h3v1h-3zM958 542h3v1h-3zM964 542h3v1h-3zM527 776h2v1h-2zM530 776h2v1h-2zM654 544h2v1h-2zM858 544h3v1h-3zM864 544h4v1h-4zM953 544h4v1h-4zM959 544h3v1h-3zM681 491h2v1h-2zM785 491h2v1h-2zM788 491h2v1h-2zM721 458h7v1h-7zM733 458h3v1h-3zM738 458h3v1h-3zM544 756h2v1h-2zM663 521h2v1h-2zM817 521h3v1h-3zM822 521h2v1h-2zM1008 521h4v1h-4zM1014 521h3v1h-3zM625 600h2v1h-2zM676 497h2v1h-2zM679 497h2v1h-2zM792 497h2v1h-2zM795 497h2v1h-2zM637 574h2v1h-2zM650 547h2v1h-2zM866 547h3v1h-3zM872 547h4v1h-4zM946 547h4v1h-4zM952 547h3v1h-3zM657 538h2v1h-2zM846 538h3v1h-3zM851 538h3v1h-3zM967 538h4v1h-4zM973 538h3v1h-3zM572 710h2v1h-2zM659 534h2v1h-2zM838 534h3v1h-3zM843 534h3v1h-3zM977 534h3v1h-3zM982 534h4v1h-4zM646 555h2v1h-2zM897 555h29v1h-29zM601 658h2v1h-2zM613 632h2v1h-2zM691 477h2v1h-2zM694 477h2v1h-2zM767 477h2v1h-2zM771 477h2v1h-2zM656 535h2v1h-2zM840 535h3v1h-3zM845 535h3v1h-3zM974 535h4v1h-4zM980 535h3v1h-3zM622 606h2v1h-2zM483 797h6v1h-6zM491 797h4v1h-4zM713 460h4v1h-4zM722 460h7v1h-7zM737 460h3v1h-3zM742 460h3v1h-3zM674 504h2v1h-2zM799 504h2v1h-2zM802 504h2v1h-2zM569 716h2v1h-2zM624 607h2v1h-2zM636 581h2v1h-2zM536 765h2v1h-2zM539 765h2v1h-2zM687 483h2v1h-2zM776 483h2v1h-2zM779 483h2v1h-2zM671 505h2v1h-2zM800 505h2v1h-2zM803 505h2v1h-2zM571 717h2v1h-2zM582 691h2v1h-2zM630 588h2v1h-2zM595 665h2v1h-2zM645 562h2v1h-2zM678 495h2v1h-2zM789 495h2v1h-2zM793 495h2v1h-2zM619 613h2v1h-2zM660 527h2v1h-2zM827 527h3v1h-3zM994 527h3v1h-3zM1000 527h3v1h-3zM565 723h2v1h-2zM509 787h3v1h-3zM513 787h3v1h-3zM564 724h2v1h-2zM567 724h2v1h-2zM727 457h6v1h-6zM736 457h3v1h-3zM581 698h2v1h-2zM650 552h2v1h-2zM881 552h6v1h-6zM893 552h6v1h-6zM924 552h7v1h-7zM938 552h6v1h-6zM500 791h4v1h-4zM506 791h3v1h-3zM638 577h2v1h-2zM651 545h2v1h-2zM860 545h4v1h-4zM867 545h3v1h-3zM951 545h3v1h-3zM957 545h3v1h-3zM648 551h2v1h-2zM877 551h5v1h-5zM887 551h7v1h-7zM930 551h8v1h-8zM943 551h3v1h-3zM712 461h2v1h-2zM717 461h6v1h-6zM739 461h3v1h-3zM744 461h2v1h-2zM664 524h2v1h-2zM822 524h3v1h-3zM826 524h3v1h-3zM1001 524h4v1h-4zM1007 524h3v1h-3zM658 536h2v1h-2zM842 536h3v1h-3zM847 536h3v1h-3zM972 536h3v1h-3zM978 536h3v1h-3zM621 609h2v1h-2zM645 557h2v1h-2zM690 479h2v1h-2zM770 479h2v1h-2zM774 479h3v1h-3zM655 537h2v1h-2zM844 537h3v1h-3zM849 537h3v1h-3zM970 537h3v1h-3zM975 537h4v1h-4zM651 550h2v1h-2zM874 550h4v1h-4zM882 550h6v1h-6zM937 550h6v1h-6zM945 550h3v1h-3zM632 584h2v1h-2zM519 781h2v1h-2zM523 781h2v1h-2zM673 501h2v1h-2zM676 501h2v1h-2zM796 501h2v1h-2zM799 501h2v1h-2zM647 558h2v1h-2zM694 474h3v1h-3zM698 474h2v1h-2zM762 474h2v1h-2zM766 474h3v1h-3zM675 502h2v1h-2zM797 502h2v1h-2zM800 502h2v1h-2zM606 642h2v1h-2zM668 511h2v1h-2zM806 511h3v1h-3zM810 511h2v1h-2zM685 485h2v1h-2zM688 485h2v1h-2zM778 485h2v1h-2zM781 485h3v1h-3zM581 693h2v1h-2zM594 667h2v1h-2zM687 486h2v1h-2zM779 486h2v1h-2zM783 486h2v1h-2zM698 471h3v1h-3zM702 471h2v1h-2zM757 471h3v1h-3zM761 471h3v1h-3zM577 700h2v1h-2zM580 700h2v1h-2zM626 597h2v1h-2zM679 493h2v1h-2zM682 493h2v1h-2zM787 493h2v1h-2zM790 493h2v1h-2zM652 548h2v1h-2zM868 548h4v1h-4zM875 548h4v1h-4zM944 548h3v1h-3zM950 548h3v1h-3zM546 753h2v1h-2zM549 753h2v1h-2zM576 707h2v1h-2zM541 759h2v1h-2zM544 759h2v1h-2zM517 782h3v1h-3zM521 782h3v1h-3zM666 520h2v1h-2zM816 520h2v1h-2zM820 520h3v1h-3zM1011 520h3v1h-3zM1016 520h4v1h-4zM686 484h2v1h-2zM689 484h2v1h-2zM777 484h2v1h-2zM780 484h2v1h-2zM661 525h2v1h-2zM824 525h2v1h-2zM828 525h3v1h-3zM999 525h3v1h-3zM1005 525h3v1h-3zM665 517h2v1h-2zM813 517h2v1h-2zM816 517h2v1h-2zM1018 517h3v1h-3zM1023 517h3v1h-3zM670 507h2v1h-2zM802 507h2v1h-2zM805 507h2v1h-2zM646 560h2v1h-2zM554 745h2v1h-2zM705 466h2v1h-2zM709 466h2v1h-2zM748 466h3v1h-3zM753 466h3v1h-3zM672 508h2v1h-2zM803 508h2v1h-2zM806 508h2v1h-2zM631 592h2v1h-2zM643 566h2v1h-2zM590 675h2v1h-2zM469 799h8v1h-8zM484 799h6v1h-6zM605 649h2v1h-2zM617 623h2v1h-2zM696 473h2v1h-2zM699 473h3v1h-3zM760 473h3v1h-3zM764 473h3v1h-3zM666 515h2v1h-2zM811 515h2v1h-2zM814 515h2v1h-2zM1022 515h4v1h-4zM589 677h2v1h-2zM525 777h3v1h-3zM529 777h2v1h-2zM547 755h2v1h-2zM495 793h4v1h-4zM501 793h4v1h-4zM515 783h3v1h-3zM520 783h2v1h-2zM542 761h2v1h-2zM689 480h2v1h-2zM692 480h2v1h-2zM771 480h3v1h-3zM776 480h2v1h-2zM553 742h2v1h-2zM556 742h2v1h-2zM667 513h2v1h-2zM809 513h2v1h-2zM812 513h2v1h-2zM669 514h2v1h-2zM810 514h2v1h-2zM813 514h2v1h-2zM662 523h2v1h-2zM821 523h2v1h-2zM825 523h2v1h-2zM1004 523h3v1h-3zM1009 523h4v1h-4zM595 670h2v1h-2zM605 644h2v1h-2zM617 618h2v1h-2zM532 770h2v1h-2zM535 770h2v1h-2zM552 748h2v1h-2zM602 650h2v1h-2zM660 532h2v1h-2zM835 532h3v1h-3zM839 532h3v1h-3zM981 532h4v1h-4zM987 532h4v1h-4zM604 651h2v1h-2zM616 625h2v1h-2zM640 573h2v1h-2zM575 709h2v1h-2zM657 533h2v1h-2zM837 533h2v1h-2zM841 533h3v1h-3zM979 533h3v1h-3zM985 533h3v1h-3zM586 683h2v1h-2zM599 657h2v1h-2zM692 476h2v1h-2zM695 476h3v1h-3zM765 476h3v1h-3zM769 476h3v1h-3zM588 684h2v1h-2zM585 690h2v1h-2zM671 510h2v1h-2zM805 510h2v1h-2zM809 510h2v1h-2zM531 771h2v1h-2zM534 771h2v1h-2zM579 697h2v1h-2zM548 751h2v1h-2zM680 492h2v1h-2zM683 492h2v1h-2zM786 492h2v1h-2zM789 492h2v1h-2zM700 470h2v1h-2zM703 470h3v1h-3zM755 470h3v1h-3zM760 470h2v1h-2zM624 602h2v1h-2zM636 576h2v1h-2zM603 653h2v1h-2zM612 634h2v1h-2zM693 478h2v1h-2zM768 478h3v1h-3zM772 478h3v1h-3zM587 686h2v1h-2zM635 583h2v1h-2zM555 739h2v1h-2zM710 462h3v1h-3zM714 462h4v1h-4zM741 462h3v1h-3zM745 462h3v1h-3zM663 526h2v1h-2zM825 526h3v1h-3zM830 526h2v1h-2zM996 526h4v1h-4zM1002 526h4v1h-4zM584 692h2v1h-2zM609 641h2v1h-2zM618 615h2v1h-2zM566 725h2v1h-2zM505 789h3v1h-3zM510 789h3v1h-3zM578 699h2v1h-2zM697 472h2v1h-2zM701 472h2v1h-2zM759 472h2v1h-2zM763 472h2v1h-2zM593 674h2v1h-2zM503 790h3v1h-3zM508 790h3v1h-3zM681 494h2v1h-2zM788 494h2v1h-2zM791 494h3v1h-3zM562 732h2v1h-2zM574 706h2v1h-2zM558 734h2v1h-2zM561 734h2v1h-2zM674 500h2v1h-2zM677 500h2v1h-2zM795 500h2v1h-2zM798 500h2v1h-2zM634 585h2v1h-2zM554 741h2v1h-2zM709 463h2v1h-2zM713 463h2v1h-2zM743 463h2v1h-2zM747 463h3v1h-3zM534 768h2v1h-2zM659 529h2v1h-2zM834 529h3v1h-3zM989 529h3v1h-3zM995 529h3v1h-3zM565 727h2v1h-2zM545 754h2v1h-2zM548 754h2v1h-2zM693 475h2v1h-2zM697 475h2v1h-2zM763 475h3v1h-3zM768 475h2v1h-2zM593 669h2v1h-2zM672 503h2v1h-2zM798 503h2v1h-2zM801 503h2v1h-2zM608 643h2v1h-2zM592 676h2v1h-2zM640 568h2v1h-2zM613 627h2v1h-2zM627 601h2v1h-2zM639 575h2v1h-2zM690 482h2v1h-2zM775 482h2v1h-2zM778 482h2v1h-2zM633 582h2v1h-2zM702 468h3v1h-3zM706 468h2v1h-2zM752 468h3v1h-3zM756 468h3v1h-3zM568 718h2v1h-2zM701 469h2v1h-2zM705 469h2v1h-2zM754 469h2v1h-2zM758 469h3v1h-3zM551 750h2v1h-2zM543 757h2v1h-2zM546 757h2v1h-2zM522 779h2v1h-2zM526 779h3v1h-3zM574 711h2v1h-2zM598 659h2v1h-2zM610 633h2v1h-2zM600 660h2v1h-2zM683 488h2v1h-2zM686 488h2v1h-2zM782 488h2v1h-2zM785 488h2v1h-2zM597 666h2v1h-2zM677 496h2v1h-2zM680 496h2v1h-2zM790 496h3v1h-3zM794 496h2v1h-2zM607 640h2v1h-2zM621 614h2v1h-2zM706 465h3v1h-3zM710 465h2v1h-2zM746 465h3v1h-3zM751 465h3v1h-3zM684 487h2v1h-2zM780 487h3v1h-3zM784 487h2v1h-2zM591 673h2v1h-2zM649 554h2v1h-2zM892 554h6v1h-6zM925 554h7v1h-7zM602 655h2v1h-2zM612 629h2v1h-2zM609 636h2v1h-2zM599 662h2v1h-2zM644 559h2v1h-2zM623 610h2v1h-2zM670 512h2v1h-2zM808 512h2v1h-2zM811 512h2v1h-2zM569 720h2v1h-2zM550 747h2v1h-2zM553 747h2v1h-2zM493 794h3v1h-3zM499 794h3v1h-3zM557 740h2v1h-2zM538 763h2v1h-2zM541 763h2v1h-2zM610 639h2v1h-2zM633 587h2v1h-2zM643 561h2v1h-2zM628 593h2v1h-2zM682 489h2v1h-2zM685 489h2v1h-2zM783 489h2v1h-2zM786 489h2v1h-2zM549 749h2v1h-2zM630 594h2v1h-2zM530 772h2v1h-2zM533 772h2v1h-2zM591 678h2v1h-2zM601 652h2v1h-2zM561 729h2v1h-2zM564 729h2v1h-2zM523 778h3v1h-3zM528 778h2v1h-2zM585 685h2v1h-2zM555 743h2v1h-2zM607 645h2v1h-2zM619 619h2v1h-2zM507 788h3v1h-3zM512 788h2v1h-2zM629 596h2v1h-2zM560 731h2v1h-2zM584 687h2v1h-2zM547 752h2v1h-2zM550 752h2v1h-2zM563 726h2v1h-2zM529 774h2v1h-2zM626 603h2v1h-2zM600 654h2v1h-2zM615 628h2v1h-2zM559 733h2v1h-2zM567 719h2v1h-2zM570 719h2v1h-2zM631 586h2v1h-2zM560 735h2v1h-2zM622 612h2v1h-2zM582 696h2v1h-2zM562 728h2v1h-2zM576 702h2v1h-2zM639 570h2v1h-2zM578 703h2v1h-2zM542 758h2v1h-2zM545 758h2v1h-2zM684 490h2v1h-2zM784 490h2v1h-2zM787 490h2v1h-2zM537 764h2v1h-2zM540 764h2v1h-2zM732 456h5v1h-5zM615 622h2v1h-2zM577 705h2v1h-2zM520 780h3v1h-3zM524 780h3v1h-3zM597 661h2v1h-2zM537 767h2v1h-2zM532 773h2v1h-2zM638 572h2v1h-2zM540 760h2v1h-2zM543 760h2v1h-2zM637 579h2v1h-2zM583 689h2v1h-2zM596 663h2v1h-2zM620 611h2v1h-2zM568 722h2v1h-2zM557 736h2v1h-2zM611 637h2v1h-2zM511 786h2v1h-2zM515 786h2v1h-2zM627 595h2v1h-2zM642 569h2v1h-2zM606 647h2v1h-2zM618 621h2v1h-2zM594 672h2v1h-2zM588 679h2v1h-2zM571 712h2v1h-2zM641 571h2v1h-2zM589 682h2v1h-2zM625 605h2v1h-2zM586 688h2v1h-2zM580 695h2v1h-2zM556 737h2v1h-2zM559 737h2v1h-2zM604 646h2v1h-2zM616 620h2v1h-2zM563 730h2v1h-2zM575 704h2v1h-2zM552 744h2v1h-2zM603 648h2v1h-2zM678 498h2v1h-2zM793 498h2v1h-2zM796 498h2v1h-2zM634 580h2v1h-2zM573 713h2v1h-2zM598 664h2v1h-2zM608 638h2v1h-2zM592 671h2v1h-2zM648 556h2v1h-2zM632 589h2v1h-2zM558 738h2v1h-2zM590 680h2v1h-2zM611 631h2v1h-2zM628 598h2v1h-2zM642 563h2v1h-2zM629 591h2v1h-2zM641 565h2v1h-2zM496 795h1v1h-1zM530 773h1v1h-1zM532 774h1v1h-1zM535 767h1v1h-1zM537 768h1v1h-1zM540 761h1v1h-1zM542 762h1v1h-1zM545 755h1v1h-1zM547 756h1v1h-1zM549 750h1v1h-1zM550 748h1v1h-1zM551 751h1v1h-1zM552 745h1v1h-1zM552 749h1v1h-1zM553 743h1v1h-1zM554 746h1v1h-1zM555 740h1v1h-1zM555 744h1v1h-1zM556 738h1v1h-1zM557 741h1v1h-1zM558 735h1v1h-1zM558 739h1v1h-1zM560 732h1v1h-1zM560 736h1v1h-1zM561 730h1v1h-1zM562 733h1v1h-1zM563 727h1v1h-1zM563 731h1v1h-1zM564 725h1v1h-1zM565 728h1v1h-1zM566 722h1v1h-1zM566 726h1v1h-1zM567 720h1v1h-1zM568 723h1v1h-1zM569 717h1v1h-1zM569 721h1v1h-1zM570 715h1v1h-1zM571 713h1v1h-1zM571 718h1v1h-1zM572 711h1v1h-1zM572 716h1v1h-1zM573 709h1v1h-1zM573 714h1v1h-1zM574 707h1v1h-1zM574 712h1v1h-1zM575 705h1v1h-1zM575 710h1v1h-1zM576 703h1v1h-1zM576 708h1v1h-1zM577 701h1v1h-1zM577 706h1v1h-1zM578 704h1v1h-1zM579 698h1v1h-1zM579 702h1v1h-1zM580 696h1v1h-1zM581 694h1v1h-1zM581 699h1v1h-1zM582 692h1v1h-1zM582 697h1v1h-1zM583 690h1v1h-1zM583 695h1v1h-1zM584 688h1v1h-1zM584 693h1v1h-1zM585 686h1v1h-1zM585 691h1v1h-1zM586 684h1v1h-1zM586 689h1v1h-1zM587 682h1v1h-1zM587 687h1v1h-1zM588 680h1v1h-1zM588 685h1v1h-1zM589 678h1v1h-1zM589 683h1v1h-1zM590 676h1v1h-1zM590 681h1v1h-1zM591 674h1v1h-1zM591 679h1v1h-1zM592 672h1v1h-1zM592 677h1v1h-1zM593 670h1v1h-1zM593 675h1v1h-1zM594 668h1v1h-1zM594 673h1v1h-1zM595 666h1v1h-1zM595 671h1v1h-1zM596 664h1v1h-1zM596 669h1v1h-1zM597 662h1v1h-1zM597 667h1v1h-1zM598 660h1v1h-1zM598 665h1v1h-1zM599 658h1v1h-1zM599 663h1v1h-1zM600 655h1v2h-1zM600 661h1v1h-1zM601 653h1v1h-1zM601 659h1v1h-1zM602 651h1v1h-1zM602 656h1v2h-1zM603 649h1v1h-1zM603 654h1v1h-1zM604 647h1v1h-1zM604 652h1v1h-1zM605 645h1v1h-1zM605 650h1v1h-1zM606 643h1v1h-1zM606 648h1v1h-1zM607 641h1v1h-1zM607 646h1v1h-1zM608 639h1v1h-1zM608 644h1v1h-1zM609 637h1v1h-1zM609 642h1v1h-1zM610 634h1v2h-1zM610 640h1v1h-1zM611 632h1v1h-1zM611 638h1v1h-1zM612 630h1v1h-1zM612 635h1v2h-1zM613 628h1v1h-1zM613 633h1v1h-1zM614 625h1v2h-1zM614 631h1v1h-1zM615 623h1v1h-1zM615 629h1v1h-1zM616 621h1v1h-1zM616 626h1v2h-1zM617 619h1v1h-1zM617 624h1v1h-1zM618 616h1v2h-1zM618 622h1v1h-1zM619 614h1v1h-1zM619 620h1v1h-1zM620 612h1v1h-1zM620 617h1v2h-1zM621 610h1v1h-1zM621 615h1v1h-1zM622 607h1v2h-1zM622 613h1v1h-1zM623 605h1v1h-1zM623 611h1v1h-1zM624 603h1v1h-1zM624 608h1v2h-1zM625 601h1v1h-1zM625 606h1v1h-1zM626 598h1v2h-1zM626 604h1v1h-1zM627 596h1v1h-1zM627 602h1v1h-1zM628 594h1v1h-1zM628 599h1v2h-1zM629 592h1v1h-1zM629 597h1v1h-1zM630 589h1v2h-1zM630 595h1v1h-1zM631 587h1v1h-1zM631 593h1v1h-1zM632 585h1v1h-1zM632 590h1v2h-1zM633 583h1v1h-1zM633 588h1v1h-1zM634 581h1v1h-1zM634 586h1v1h-1zM635 579h1v1h-1zM635 584h1v1h-1zM636 577h1v1h-1zM636 582h1v1h-1zM637 575h1v1h-1zM637 580h1v1h-1zM638 573h1v1h-1zM638 578h1v1h-1zM639 571h1v1h-1zM639 576h1v1h-1zM640 569h1v1h-1zM640 574h1v1h-1zM641 566h1v2h-1zM641 572h1v1h-1zM642 564h1v1h-1zM642 570h1v1h-1zM643 562h1v1h-1zM643 567h1v2h-1zM644 560h1v1h-1zM644 565h1v1h-1zM645 558h1v1h-1zM645 563h1v1h-1zM646 556h1v1h-1zM646 561h1v1h-1zM647 554h1v1h-1zM647 559h1v1h-1zM648 552h1v1h-1zM648 557h1v1h-1zM649 550h1v1h-1zM649 555h1v1h-1zM650 548h1v1h-1zM650 553h1v1h-1zM651 546h1v1h-1zM651 551h1v1h-1zM652 544h1v1h-1zM652 549h1v1h-1zM653 542h1v1h-1zM653 547h1v1h-1zM654 540h1v1h-1zM654 545h1v1h-1zM655 538h1v1h-1zM655 543h1v1h-1zM656 536h1v1h-1zM656 541h1v1h-1zM657 534h1v1h-1zM657 539h1v1h-1zM658 532h1v1h-1zM658 537h1v1h-1zM659 530h1v1h-1zM659 535h1v1h-1zM660 528h1v1h-1zM660 533h1v1h-1zM661 526h1v1h-1zM661 531h1v1h-1zM662 524h1v1h-1zM662 529h1v1h-1zM663 522h1v1h-1zM663 527h1v1h-1zM664 520h1v1h-1zM664 525h1v1h-1zM665 518h1v1h-1zM665 523h1v1h-1zM666 516h1v1h-1zM666 521h1v1h-1zM667 514h1v1h-1zM667 519h1v1h-1zM668 512h1v1h-1zM668 517h1v1h-1zM669 510h1v1h-1zM669 515h1v1h-1zM670 508h1v1h-1zM670 513h1v1h-1zM671 506h1v1h-1zM671 511h1v1h-1zM672 504h1v1h-1zM672 509h1v1h-1zM673 502h1v1h-1zM673 507h1v1h-1zM674 505h1v1h-1zM675 503h1v1h-1zM676 498h1v1h-1zM678 499h1v1h-1zM679 494h1v1h-1zM681 495h1v1h-1zM682 490h1v1h-1zM684 491h1v1h-1zM685 486h1v1h-1zM687 487h1v1h-1zM688 482h1v1h-1zM690 483h1v1h-1zM691 478h1v1h-1zM693 479h1v1h-1zM830 529h1v1h-1zM831 527h1v1h-1zM832 529h1v1h-1zM833 527h1v1h-1zM1025 516h1v1h-1z"/>
<!-- axes -->
<g class="ax">
<rect x="156" y="68" width="1" height="734"/>
<rect x="156" y="801" width="931" height="1"/>
<rect x="156" y="68" width="10" height="1"/>
<rect x="156" y="190" width="10" height="1"/>
<rect x="156" y="312" width="10" height="1"/>
<rect x="156" y="434" width="10" height="1"/>
<rect x="156" y="556" width="10" height="1"/>
<rect x="156" y="678" width="10" height="1"/>
<rect x="156" y="801" width="10" height="1"/>
<rect x="156" y="791" width="1" height="11"/>
<rect x="259" y="791" width="1" height="11"/>
<rect x="362" y="791" width="1" height="11"/>
<rect x="466" y="791" width="1" height="11"/>
<rect x="569" y="791" width="1" height="11"/>
<rect x="672" y="791" width="1" height="11"/>
<rect x="776" y="791" width="1" height="11"/>
<rect x="879" y="791" width="1" height="11"/>
<rect x="982" y="791" width="1" height="11"/>
<rect x="1086" y="791" width="1" height="11"/>
</g>
<!-- data series: blue -->
<path class="ln" fill="#120a78" d="M353 798h62v1h-62zM518 794h16v1h-16zM593 784h4v1h-4zM156 800h135v1h-135zM497 795h21v1h-21zM605 781h4v1h-4zM572 788h5v1h-5zM415 797h62v1h-62zM477 796h20v1h-20zM291 799h62v1h-62zM577 787h6v1h-6zM559 790h7v1h-7zM613 779h3v1h-3zM691 739h2v1h-2zM669 755h2v1h-2zM588 785h5v1h-5zM601 782h4v1h-4zM566 789h6v1h-6zM642 769h2v1h-2zM637 771h3v1h-3zM644 768h3v1h-3zM534 793h10v1h-10zM703 728h2v1h-2zM675 751h2v1h-2zM640 770h2v1h-2zM544 792h9v1h-9zM683 745h2v1h-2zM623 776h3v1h-3zM635 772h2v1h-2zM630 774h3v1h-3zM655 763h2v1h-2zM651 765h2v1h-2zM620 777h3v1h-3zM647 767h2v1h-2zM609 780h4v1h-4zM662 759h2v1h-2zM553 791h6v1h-6zM583 786h5v1h-5zM626 775h4v1h-4zM597 783h4v1h-4zM664 758h2v1h-2zM660 760h2v1h-2zM657 762h2v1h-2zM653 764h2v1h-2zM649 766h2v1h-2zM667 756h2v1h-2zM679 748h2v1h-2zM687 742h2v1h-2zM633 773h2v1h-2zM616 778h4v1h-4zM671 754h2v1h-2zM659 761h1v1h-1zM666 757h1v1h-1zM673 753h1v1h-1zM674 752h1v1h-1zM677 750h1v1h-1zM678 749h1v1h-1zM681 747h1v1h-1zM682 746h1v1h-1zM685 744h1v1h-1zM686 743h1v1h-1zM689 741h1v1h-1zM690 740h1v1h-1zM693 738h1v1h-1zM694 737h1v1h-1zM695 736h1v1h-1zM696 735h1v1h-1zM697 734h1v1h-1zM698 733h1v1h-1zM699 732h1v1h-1zM700 731h1v1h-1zM701 730h1v1h-1zM702 729h1v1h-1zM705 727h1v1h-1zM706 726h1v1h-1zM707 725h1v1h-1zM708 724h1v1h-1zM709 723h1v1h-1zM710 722h1v1h-1zM711 721h1v1h-1zM712 720h1v1h-1zM713 719h1v1h-1zM714 718h1v1h-1zM715 717h1v1h-1zM716 716h1v1h-1zM717 715h1v1h-1zM718 713h1v2h-1zM719 712h1v1h-1zM720 711h1v1h-1zM721 710h1v1h-1zM722 709h1v1h-1zM723 708h1v1h-1zM724 707h1v1h-1zM725 705h1v2h-1zM726 704h1v1h-1zM727 703h1v1h-1zM728 702h1v1h-1zM729 701h1v1h-1zM730 700h1v1h-1zM731 699h1v1h-1zM732 697h1v2h-1zM733 696h1v1h-1zM734 695h1v1h-1zM735 694h1v1h-1zM736 692h1v2h-1zM737 691h1v1h-1zM738 690h1v1h-1zM739 688h1v2h-1zM740 687h1v1h-1zM741 685h1v2h-1zM742 684h1v1h-1zM743 683h1v1h-1zM744 681h1v2h-1zM745 680h1v1h-1zM746 678h1v2h-1zM747 677h1v1h-1zM748 676h1v1h-1zM749 674h1v2h-1zM750 673h1v1h-1zM751 671h1v2h-1zM752 670h1v1h-1zM753 669h1v1h-1zM754 667h1v2h-1zM755 666h1v1h-1zM756 664h1v2h-1zM757 663h1v1h-1zM758 661h1v2h-1zM759 659h1v2h-1zM760 658h1v1h-1zM761 656h1v2h-1zM762 655h1v1h-1zM763 653h1v2h-1zM764 652h1v1h-1zM765 650h1v2h-1zM766 648h1v2h-1zM767 647h1v1h-1zM768 645h1v2h-1zM769 644h1v1h-1zM770 642h1v2h-1zM771 641h1v1h-1zM772 639h1v2h-1zM773 637h1v2h-1zM774 636h1v1h-1zM775 634h1v2h-1zM776 633h1v1h-1zM777 631h1v2h-1zM778 629h1v2h-1zM779 627h1v2h-1zM780 626h1v1h-1zM781 624h1v2h-1zM782 622h1v2h-1zM783 620h1v2h-1zM784 619h1v1h-1zM785 617h1v2h-1zM786 615h1v2h-1zM787 613h1v2h-1zM788 611h1v2h-1zM789 610h1v1h-1zM790 608h1v2h-1zM791 606h1v2h-1zM792 604h1v2h-1zM793 603h1v1h-1zM794 601h1v2h-1zM795 599h1v2h-1zM796 597h1v2h-1zM797 596h1v1h-1zM798 594h1v2h-1zM799 592h1v2h-1zM800 590h1v2h-1zM801 588h1v2h-1zM802 586h1v2h-1zM803 584h1v2h-1zM804 582h1v2h-1zM805 580h1v2h-1zM806 578h1v2h-1zM807 576h1v2h-1zM808 574h1v2h-1zM809 572h1v2h-1zM810 570h1v2h-1zM811 568h1v2h-1zM812 566h1v2h-1zM813 564h1v2h-1zM814 562h1v2h-1zM815 560h1v2h-1zM816 558h1v2h-1zM817 556h1v2h-1zM818 554h1v2h-1zM819 552h1v2h-1zM820 550h1v2h-1zM821 548h1v2h-1zM822 546h1v2h-1zM823 544h1v2h-1zM824 542h1v2h-1zM825 540h1v2h-1zM826 538h1v2h-1zM827 536h1v2h-1zM828 534h1v2h-1zM829 532h1v2h-1zM830 530h1v2h-1zM831 528h1v2h-1zM832 526h1v2h-1zM833 524h1v2h-1zM834 522h1v2h-1zM835 520h1v2h-1zM836 518h1v2h-1zM837 516h1v2h-1zM838 513h1v3h-1zM839 511h1v2h-1zM840 509h1v2h-1zM841 507h1v2h-1zM842 505h1v2h-1zM843 502h1v3h-1zM844 500h1v2h-1zM845 498h1v2h-1zM846 496h1v2h-1zM847 494h1v2h-1zM848 492h1v2h-1zM849 489h1v3h-1zM850 487h1v2h-1zM851 485h1v2h-1zM852 483h1v2h-1zM853 481h1v2h-1zM854 478h1v3h-1zM855 476h1v2h-1zM856 474h1v2h-1zM857 472h1v2h-1zM858 470h1v2h-1zM859 467h1v3h-1zM860 465h1v2h-1zM861 463h1v2h-1zM862 460h1v3h-1zM863 458h1v2h-1zM864 456h1v2h-1zM865 453h1v3h-1zM866 451h1v2h-1zM867 449h1v2h-1zM868 446h1v3h-1zM869 444h1v2h-1zM870 441h1v3h-1zM871 439h1v2h-1zM872 437h1v2h-1zM873 434h1v3h-1zM874 432h1v2h-1zM875 430h1v2h-1zM876 427h1v3h-1zM877 425h1v2h-1zM878 423h1v2h-1zM879 420h1v3h-1zM880 418h1v2h-1zM881 416h1v2h-1zM882 414h1v2h-1zM883 412h1v2h-1zM884 409h1v3h-1zM885 407h1v2h-1zM886 405h1v2h-1zM887 403h1v2h-1zM888 401h1v2h-1zM889 399h1v2h-1zM890 396h1v3h-1zM891 394h1v2h-1zM892 392h1v2h-1zM893 390h1v2h-1zM894 388h1v2h-1zM895 385h1v3h-1zM896 383h1v2h-1zM897 381h1v2h-1zM898 379h1v2h-1zM899 377h1v2h-1zM900 374h1v3h-1zM901 372h1v2h-1zM902 370h1v2h-1zM903 368h1v2h-1zM904 366h1v2h-1zM905 363h1v3h-1zM906 361h1v2h-1zM907 359h1v2h-1zM908 357h1v2h-1zM909 355h1v2h-1zM910 353h1v2h-1zM911 350h1v3h-1zM912 348h1v2h-1zM913 346h1v2h-1zM914 344h1v2h-1zM915 342h1v2h-1zM916 339h1v3h-1zM917 337h1v2h-1zM918 335h1v2h-1zM919 333h1v2h-1zM920 331h1v2h-1zM921 328h1v3h-1zM922 326h1v2h-1zM923 324h1v2h-1zM924 321h1v3h-1zM925 319h1v2h-1zM926 317h1v2h-1zM927 315h1v2h-1zM928 312h1v3h-1zM929 310h1v2h-1zM930 308h1v2h-1zM931 305h1v3h-1zM932 303h1v2h-1zM933 301h1v2h-1zM934 298h1v3h-1zM935 296h1v2h-1zM936 294h1v2h-1zM937 292h1v2h-1zM938 289h1v3h-1zM939 287h1v2h-1zM940 285h1v2h-1zM941 282h1v3h-1zM942 280h1v2h-1zM943 278h1v2h-1zM944 276h1v2h-1zM945 274h1v2h-1zM946 271h1v3h-1zM947 269h1v2h-1zM948 267h1v2h-1zM949 265h1v2h-1zM950 263h1v2h-1zM951 261h1v2h-1zM952 258h1v3h-1zM953 256h1v2h-1zM954 254h1v2h-1zM955 252h1v2h-1zM956 250h1v2h-1zM957 247h1v3h-1zM958 245h1v2h-1zM959 243h1v2h-1zM960 241h1v2h-1zM961 239h1v2h-1zM962 237h1v2h-1zM963 235h1v2h-1zM964 233h1v2h-1zM965 232h1v1h-1zM966 230h1v2h-1zM967 228h1v2h-1zM968 226h1v2h-1zM969 225h1v1h-1zM970 223h1v2h-1zM971 221h1v2h-1zM972 220h1v1h-1zM973 218h1v2h-1zM974 216h1v2h-1zM975 214h1v2h-1zM976 213h1v1h-1zM977 211h1v2h-1zM978 209h1v2h-1zM979 208h1v1h-1zM980 206h1v2h-1zM981 204h1v2h-1zM982 202h1v2h-1zM983 201h1v1h-1zM984 200h1v1h-1zM985 198h1v2h-1zM986 197h1v1h-1zM987 196h1v1h-1zM988 194h1v2h-1zM989 193h1v1h-1zM990 192h1v1h-1zM991 190h1v2h-1zM992 189h1v1h-1zM993 188h1v1h-1zM994 187h1v1h-1zM995 185h1v2h-1zM996 184h1v1h-1zM997 183h1v1h-1zM998 181h1v2h-1zM999 180h1v1h-1zM1000 179h1v1h-1zM1001 177h1v2h-1zM1002 176h1v1h-1zM1003 175h1v1h-1zM1004 174h1v1h-1zM1005 173h1v1h-1zM1006 172h1v1h-1zM1007 171h1v1h-1zM1008 170h1v1h-1zM1009 169h1v1h-1zM1010 168h1v1h-1zM1011 167h1v1h-1zM1012 166h1v1h-1zM1013 165h1v1h-1zM1014 164h1v1h-1zM1015 163h1v1h-1zM1016 162h1v1h-1zM1017 161h1v1h-1zM1018 160h1v1h-1zM1019 159h1v1h-1zM1020 158h1v1h-1zM1021 157h1v1h-1zM1022 156h1v1h-1zM1023 155h1v1h-1zM1024 154h1v1h-1z"/>
<!-- data series: magenta -->
<path class="ln" fill="#9e3094" d="M156 801h314v1h-314zM997 527h3v1h-3zM887 552h6v1h-6zM931 552h7v1h-7zM818 520h2v1h-2zM1014 520h2v1h-2zM845 536h2v1h-2zM975 536h3v1h-3zM470 800h7v1h-7zM749 465h2v1h-2zM893 553h5v1h-5zM925 553h6v1h-6zM898 554h27v1h-27zM839 533h2v1h-2zM982 533h3v1h-3zM1016 519h3v1h-3zM867 546h2v1h-2zM952 546h2v1h-2zM861 544h3v1h-3zM957 544h2v1h-2zM477 799h7v1h-7zM853 540h2v1h-2zM966 540h2v1h-2zM836 531h2v1h-2zM987 531h3v1h-3zM717 460h5v1h-5zM740 460h2v1h-2zM516 784h2v1h-2zM508 789h2v1h-2zM872 548h3v1h-3zM947 548h3v1h-3zM753 467h2v1h-2zM711 463h2v1h-2zM745 463h2v1h-2zM722 459h6v1h-6zM738 459h2v1h-2zM857 542h2v1h-2zM961 542h3v1h-3zM849 538h2v1h-2zM971 538h2v1h-2zM851 539h2v1h-2zM968 539h3v1h-3zM843 535h2v1h-2zM978 535h2v1h-2zM714 461h3v1h-3zM742 461h2v1h-2zM733 457h3v1h-3zM791 495h2v1h-2zM703 469h2v1h-2zM756 469h2v1h-2zM499 793h2v1h-2zM985 532h2v1h-2zM869 547h3v1h-3zM950 547h2v1h-2zM878 550h4v1h-4zM943 550h2v1h-2zM695 475h2v1h-2zM766 475h2v1h-2zM772 479h2v1h-2zM504 791h2v1h-2zM859 543h2v1h-2zM959 543h2v1h-2zM841 534h2v1h-2zM980 534h2v1h-2zM864 545h3v1h-3zM954 545h3v1h-3zM526 778h2v1h-2zM518 783h2v1h-2zM834 530h2v1h-2zM990 530h2v1h-2zM774 480h2v1h-2zM510 788h2v1h-2zM489 797h2v1h-2zM855 541h2v1h-2zM964 541h2v1h-2zM828 526h2v1h-2zM1000 526h2v1h-2zM823 523h2v1h-2zM1007 523h2v1h-2zM707 466h2v1h-2zM751 466h2v1h-2zM1009 522h3v1h-3zM875 549h3v1h-3zM945 549h2v1h-2zM699 472h2v1h-2zM761 472h2v1h-2zM1005 524h2v1h-2zM831 528h2v1h-2zM995 528h2v1h-2zM764 474h2v1h-2zM1021 517h2v1h-2zM506 790h2v1h-2zM826 525h2v1h-2zM1002 525h3v1h-3zM781 486h2v1h-2zM882 551h5v1h-5zM938 551h5v1h-5zM728 458h5v1h-5zM736 458h2v1h-2zM484 798h5v1h-5zM496 794h3v1h-3zM491 796h3v1h-3zM501 792h3v1h-3zM807 510h2v1h-2zM494 795h2v1h-2zM758 470h2v1h-2zM1023 516h2v1h-2zM847 537h2v1h-2zM973 537h2v1h-2zM521 781h2v1h-2zM513 786h2v1h-2zM992 529h3v1h-3zM747 464h2v1h-2zM1019 518h2v1h-2zM769 477h2v1h-2zM820 521h2v1h-2zM1012 521h2v1h-2zM524 779h2v1h-2zM512 787h1v1h-1zM515 785h1v1h-1zM520 782h1v1h-1zM523 780h1v1h-1zM528 777h1v1h-1zM529 776h1v1h-1zM530 775h1v1h-1zM531 773h1v2h-1zM532 772h1v1h-1zM533 771h1v1h-1zM534 770h1v1h-1zM535 769h1v1h-1zM536 767h1v2h-1zM537 766h1v1h-1zM538 765h1v1h-1zM539 764h1v1h-1zM540 763h1v1h-1zM541 761h1v2h-1zM542 760h1v1h-1zM543 759h1v1h-1zM544 758h1v1h-1zM545 757h1v1h-1zM546 755h1v2h-1zM547 754h1v1h-1zM548 753h1v1h-1zM549 752h1v1h-1zM550 750h1v2h-1zM551 748h1v2h-1zM552 747h1v1h-1zM553 745h1v2h-1zM554 743h1v2h-1zM555 742h1v1h-1zM556 740h1v2h-1zM557 738h1v2h-1zM558 737h1v1h-1zM559 735h1v2h-1zM560 734h1v1h-1zM561 732h1v2h-1zM562 730h1v2h-1zM563 729h1v1h-1zM564 727h1v2h-1zM565 725h1v2h-1zM566 724h1v1h-1zM567 722h1v2h-1zM568 720h1v2h-1zM569 719h1v1h-1zM570 717h1v2h-1zM571 715h1v2h-1zM572 713h1v2h-1zM573 711h1v2h-1zM574 709h1v2h-1zM575 707h1v2h-1zM576 705h1v2h-1zM577 703h1v2h-1zM578 701h1v2h-1zM579 700h1v1h-1zM580 698h1v2h-1zM581 696h1v2h-1zM582 694h1v2h-1zM583 692h1v2h-1zM584 690h1v2h-1zM585 688h1v2h-1zM586 686h1v2h-1zM587 684h1v2h-1zM588 682h1v2h-1zM589 680h1v2h-1zM590 678h1v2h-1zM591 676h1v2h-1zM592 674h1v2h-1zM593 672h1v2h-1zM594 670h1v2h-1zM595 668h1v2h-1zM596 666h1v2h-1zM597 664h1v2h-1zM598 662h1v2h-1zM599 660h1v2h-1zM600 658h1v2h-1zM601 655h1v3h-1zM602 653h1v2h-1zM603 651h1v2h-1zM604 649h1v2h-1zM605 647h1v2h-1zM606 645h1v2h-1zM607 643h1v2h-1zM608 641h1v2h-1zM609 639h1v2h-1zM610 637h1v2h-1zM611 634h1v3h-1zM612 632h1v2h-1zM613 630h1v2h-1zM614 628h1v2h-1zM615 625h1v3h-1zM616 623h1v2h-1zM617 621h1v2h-1zM618 619h1v2h-1zM619 616h1v3h-1zM620 614h1v2h-1zM621 612h1v2h-1zM622 610h1v2h-1zM623 607h1v3h-1zM624 605h1v2h-1zM625 603h1v2h-1zM626 601h1v2h-1zM627 598h1v3h-1zM628 596h1v2h-1zM629 594h1v2h-1zM630 592h1v2h-1zM631 589h1v3h-1zM632 587h1v2h-1zM633 585h1v2h-1zM634 583h1v2h-1zM635 581h1v2h-1zM636 579h1v2h-1zM637 577h1v2h-1zM638 575h1v2h-1zM639 573h1v2h-1zM640 571h1v2h-1zM641 569h1v2h-1zM642 566h1v3h-1zM643 564h1v2h-1zM644 562h1v2h-1zM645 560h1v2h-1zM646 558h1v2h-1zM647 556h1v2h-1zM648 554h1v2h-1zM649 552h1v2h-1zM650 550h1v2h-1zM651 548h1v2h-1zM652 546h1v2h-1zM653 544h1v2h-1zM654 542h1v2h-1zM655 540h1v2h-1zM656 538h1v2h-1zM657 536h1v2h-1zM658 534h1v2h-1zM659 532h1v2h-1zM660 530h1v2h-1zM661 528h1v2h-1zM662 526h1v2h-1zM663 524h1v2h-1zM664 522h1v2h-1zM665 520h1v2h-1zM666 518h1v2h-1zM667 516h1v2h-1zM668 514h1v2h-1zM669 512h1v2h-1zM670 510h1v2h-1zM671 508h1v2h-1zM672 506h1v2h-1zM673 504h1v2h-1zM674 502h1v2h-1zM675 501h1v1h-1zM676 500h1v1h-1zM677 498h1v2h-1zM678 497h1v1h-1zM679 496h1v1h-1zM680 494h1v2h-1zM681 493h1v1h-1zM682 492h1v1h-1zM683 490h1v2h-1zM684 489h1v1h-1zM685 488h1v1h-1zM686 486h1v2h-1zM687 485h1v1h-1zM688 484h1v1h-1zM689 482h1v2h-1zM690 481h1v1h-1zM691 480h1v1h-1zM692 478h1v2h-1zM693 477h1v1h-1zM694 476h1v1h-1zM697 474h1v1h-1zM698 473h1v1h-1zM701 471h1v1h-1zM702 470h1v1h-1zM705 468h1v1h-1zM706 467h1v1h-1zM709 465h1v1h-1zM710 464h1v1h-1zM713 462h1v1h-1zM744 462h1v1h-1zM755 468h1v1h-1zM760 471h1v1h-1zM763 473h1v1h-1zM768 476h1v1h-1zM771 478h1v1h-1zM776 481h1v1h-1zM777 482h1v1h-1zM778 483h1v1h-1zM779 484h1v1h-1zM780 485h1v1h-1zM783 487h1v1h-1zM784 488h1v1h-1zM785 489h1v1h-1zM786 490h1v1h-1zM787 491h1v1h-1zM788 492h1v1h-1zM789 493h1v1h-1zM790 494h1v1h-1zM793 496h1v1h-1zM794 497h1v1h-1zM795 498h1v1h-1zM796 499h1v1h-1zM797 500h1v1h-1zM798 501h1v1h-1zM799 502h1v1h-1zM800 503h1v1h-1zM801 504h1v1h-1zM802 505h1v1h-1zM803 506h1v1h-1zM804 507h1v1h-1zM805 508h1v1h-1zM806 509h1v1h-1zM809 511h1v1h-1zM810 512h1v1h-1zM811 513h1v1h-1zM812 514h1v1h-1zM813 515h1v1h-1zM814 516h1v1h-1zM815 517h1v1h-1zM816 518h1v1h-1zM817 519h1v1h-1zM822 522h1v1h-1zM825 524h1v1h-1zM830 527h1v1h-1zM833 529h1v1h-1zM838 532h1v1h-1z"/>
<!-- y tick labels -->
<g class="lb" text-anchor="end">
<text transform="translate(150.05 75.65) scale(1 1.05)">0.12</text>
<text transform="translate(150.05 197.65) scale(1 1.05)">0.1</text>
<text transform="translate(150.05 319.65) scale(1 1.05)">0.08</text>
<text transform="translate(150.05 441.65) scale(1 1.05)">0.06</text>
<text transform="translate(150.05 563.65) scale(1 1.05)">0.04</text>
<text transform="translate(150.05 685.65) scale(1 1.05)">0.02</text>
<text transform="translate(150.05 808.65) scale(1 1.05)">0</text>
</g>
<!-- x tick labels -->
<g class="lb" text-anchor="middle">
<text transform="translate(156.00 826.60) scale(1 1.05)">1980</text>
<text transform="translate(259.00 826.60) scale(1 1.05)">1985</text>
<text transform="translate(362.00 826.60) scale(1 1.05)">1990</text>
<text transform="translate(466.00 826.60) scale(1 1.05)">1995</text>
<text transform="translate(569.00 826.60) scale(1 1.05)">2000</text>
<text transform="translate(672.00 826.60) scale(1 1.05)">2005</text>
<text transform="translate(776.00 826.60) scale(1 1.05)">2010</text>
<text transform="translate(879.00 826.60) scale(1 1.05)">2015</text>
<text transform="translate(982.00 826.60) scale(1 1.05)">2020</text>
<text transform="translate(1086.00 826.60) scale(1 1.05)">2025</text>
</g>
</svg></body></html>
